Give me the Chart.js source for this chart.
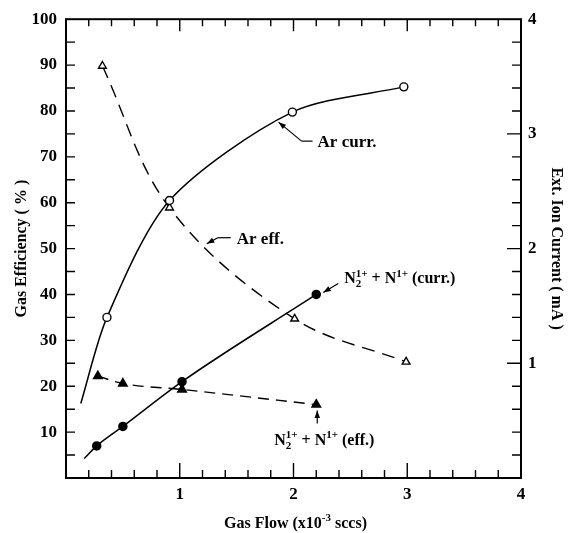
<!DOCTYPE html>
<html>
<head>
<meta charset="utf-8">
<script src="https://cdn.jsdelivr.net/npm/chart.js@4.4.0/dist/chart.umd.min.js"></script>
<style>
html, body { margin: 0; padding: 0; background: #fff; }
</style>
</head>
<body>
<canvas id="myChart" width="569" height="533"></canvas>
<script>
// values (x in 10^-3 sccs)
const arCurrX = [0.13, 0.36, 0.91, 1.99, 2.97];
const arCurrY = [0.65, 1.40, 2.42, 3.19, 3.41];   // mA
const arEffX = [0.32, 0.91, 2.01, 2.99];
const arEffY = [89.8, 58.9, 34.7, 25.3];          // %
const nCurrX = [0.16, 0.27, 0.50, 1.02, 2.20];
const nCurrY = [0.17, 0.28, 0.45, 0.84, 1.60];    // mA
const nEffX = [0.28, 0.50, 1.02, 2.20];
const nEffY = [22.2, 20.6, 19.3, 16.0];           // %

const ctx = document.getElementById('myChart').getContext('2d');
const serif = '"Liberation Serif", "Times New Roman", serif';

function pts(xs, ys) {
    return xs.map((x, i) => ({x: x, y: ys[i]}));
}

// text with sub/superscripts, parts: [text] or [sup, sub]
function richText(c, x, y, parts, size) {
    const big = 'bold ' + size + 'px ' + serif;
    const small = 'bold ' + Math.round(size * 0.68) + 'px ' + serif;
    c.textBaseline = 'alphabetic';
    c.textAlign = 'left';
    for (const p of parts) {
        if (p.length === 1) {
            c.font = big;
            c.fillText(p[0], x, y);
            x += c.measureText(p[0]).width;
        } else {
            c.font = small;
            let w = 0;
            if (p[0]) { c.fillText(p[0], x, y - size * 0.42); w = c.measureText(p[0]).width; }
            if (p[1]) { c.fillText(p[1], x, y + size * 0.25); w = Math.max(w, c.measureText(p[1]).width); }
            x += w;
        }
    }
}

function arrow(c, x1, y1, x2, y2) {
    c.beginPath();
    c.moveTo(x1, y1);
    c.lineTo(x2, y2);
    c.stroke();
    const ang = Math.atan2(y2 - y1, x2 - x1);
    c.beginPath();
    c.moveTo(x2, y2);
    c.lineTo(x2 - 8 * Math.cos(ang - 0.35), y2 - 8 * Math.sin(ang - 0.35));
    c.lineTo(x2 - 8 * Math.cos(ang + 0.35), y2 - 8 * Math.sin(ang + 0.35));
    c.closePath();
    c.fill();
}

const frame = {
    id: 'frame',
    afterDraw(chart) {
        const c = chart.ctx, a = chart.chartArea, s = chart.scales;
        c.save();
        c.strokeStyle = '#000';
        c.fillStyle = '#000';
        c.lineWidth = 2;
        c.strokeRect(a.left, a.top, a.right - a.left, a.bottom - a.top);

        // inward ticks
        c.lineWidth = 1.4;
        c.beginPath();
        for (let i = 1; i < 20; i++) {
            const px = s.x.getPixelForValue(i / 5);
            const major = i % 5 === 0;
            c.moveTo(px, a.bottom); c.lineTo(px, a.bottom - (major ? 15 : 8));
            c.moveTo(px, a.top); c.lineTo(px, a.top + (major ? 12 : 7));
        }
        for (let v = 5; v < 100; v += 5) {
            const py = s.y.getPixelForValue(v);
            c.moveTo(a.left, py); c.lineTo(a.left + 9, py);
        }
        for (let i = 1; i < 20; i++) {
            const py = s.y1.getPixelForValue(i / 5);
            c.moveTo(a.right, py); c.lineTo(a.right - (i % 5 === 0 ? 14 : 9), py);
        }
        c.stroke();

        // annotations
        c.lineWidth = 1.2;
        const X = v => s.x.getPixelForValue(v);
        const Y1 = v => s.y1.getPixelForValue(v);
        const Y = v => s.y.getPixelForValue(v);

        // Ar curr.
        let tx = X(1.86), ty = Y1(3.12);
        c.beginPath();
        c.moveTo(tx + 35, ty + 21); c.lineTo(tx + 24, ty + 21); c.stroke();
        arrow(c, tx + 24, ty + 21, tx + 1, ty + 2);
        richText(c, tx + 40, ty + 27, [['Ar curr.']], 17);

        // Ar eff.
        tx = X(1.22); ty = Y(51.5);
        c.beginPath();
        c.moveTo(tx + 26, ty - 4); c.lineTo(tx + 13, ty - 4); c.stroke();
        arrow(c, tx + 13, ty - 4, tx + 2, ty + 2);
        richText(c, tx + 32, ty + 2, [['Ar eff.']], 17);

        // N2 curr.
        tx = X(2.2); ty = Y1(1.60);
        arrow(c, tx + 22, ty - 11, tx + 7, ty - 2);
        richText(c, tx + 28, ty - 11, [['N'], ['1+', '2'], [' + N'], ['1+', ''], [' (curr.)']], 16);

        // N2 eff.
        tx = X(2.2); ty = Y(16.0);
        arrow(c, tx + 1, ty + 19, tx + 1, ty + 6);
        richText(c, tx - 42, ty + 40, [['N'], ['1+', '2'], [' + N'], ['1+', ''], [' (eff.)']], 16);

        // x axis title with superscript
        const t1 = 'Gas Flow (x10', t2 = ' sccs)';
        c.font = 'bold 11px ' + serif;
        const wsup = c.measureText('-3').width;
        c.font = 'bold 16px ' + serif;
        const w = c.measureText(t1).width + wsup + c.measureText(t2).width;
        const bx = (a.left + a.right) / 2 - w / 2 + 2;
        richText(c, bx, 528, [[t1], ['-3', ''], [t2]], 16);
        c.restore();
    }
};

const tickFont = {family: serif, size: 17, weight: 'bold'};
const titleFont = {family: serif, size: 16, weight: 'bold'};

const myChart = new Chart(ctx, {
    type: 'line',
    data: {
        datasets: [{
            label: 'Ar curr.',
            data: pts(arCurrX, arCurrY),
            yAxisID: 'y1',
            borderColor: '#000',
            borderWidth: 1.5,
            pointRadius: [0, 4, 4, 4, 4],
            pointBackgroundColor: '#fff',
            pointBorderColor: '#000',
            pointBorderWidth: 1.4,
            tension: 0.28
        }, {
            label: 'Ar eff.',
            data: pts(arEffX, arEffY),
            yAxisID: 'y',
            borderColor: '#000',
            borderWidth: 1.4,
            borderDash: [13, 8],
            pointStyle: 'triangle',
            pointRadius: 4.5,
            pointBackgroundColor: '#fff',
            pointBorderColor: '#000',
            pointBorderWidth: 1.4,
            tension: 0.35
        }, {
            label: 'N2 curr.',
            data: pts(nCurrX, nCurrY),
            yAxisID: 'y1',
            borderColor: '#000',
            borderWidth: 1.5,
            pointRadius: [0, 4, 4, 4, 4],
            pointBackgroundColor: '#000',
            pointBorderColor: '#000',
            cubicInterpolationMode: 'monotone'
        }, {
            label: 'N2 eff.',
            data: pts(nEffX, nEffY),
            yAxisID: 'y',
            borderColor: '#000',
            borderWidth: 1.4,
            borderDash: [11, 7],
            pointStyle: 'triangle',
            pointRadius: 5,
            pointBackgroundColor: '#000',
            pointBorderColor: '#000',
            cubicInterpolationMode: 'monotone'
        }]
    },
    options: {
        responsive: false,
        animation: false,
        layout: {padding: {top: 19, left: 0, right: 0, bottom: 0}},
        plugins: {legend: {display: false}, tooltip: {enabled: false}},
        scales: {
            x: {
                type: 'linear',
                min: 0, max: 4,
                grid: {display: false, drawTicks: false},
                border: {display: false},
                ticks: {
                    stepSize: 1, padding: 6, color: '#000', font: tickFont,
                    callback: v => v === 0 ? '' : v
                },
                afterFit: s => { s.height = 55; }
            },
            y: {
                position: 'left',
                min: 0, max: 100,
                grid: {display: false, drawTicks: false},
                border: {display: false},
                ticks: {
                    stepSize: 10, padding: 9, color: '#000', font: tickFont,
                    callback: v => v === 0 ? '' : v
                },
                title: {display: true, text: 'Gas Efficiency ( % )', color: '#000', font: titleFont, padding: {top: 12, bottom: 0}},
                afterFit: s => { s.width = 66; }
            },
            y1: {
                position: 'right',
                min: 0, max: 4,
                grid: {display: false, drawTicks: false},
                border: {display: false},
                ticks: {
                    stepSize: 1, padding: 7, color: '#000', font: tickFont,
                    callback: v => v === 0 ? '' : v
                },
                title: {display: true, text: 'Ext. Ion Current ( mA )', color: '#000', font: titleFont, padding: {top: 3, bottom: 0}},
                afterFit: s => { s.width = 48; }
            }
        }
    },
    plugins: [frame]
});
</script>
</body>
</html>
